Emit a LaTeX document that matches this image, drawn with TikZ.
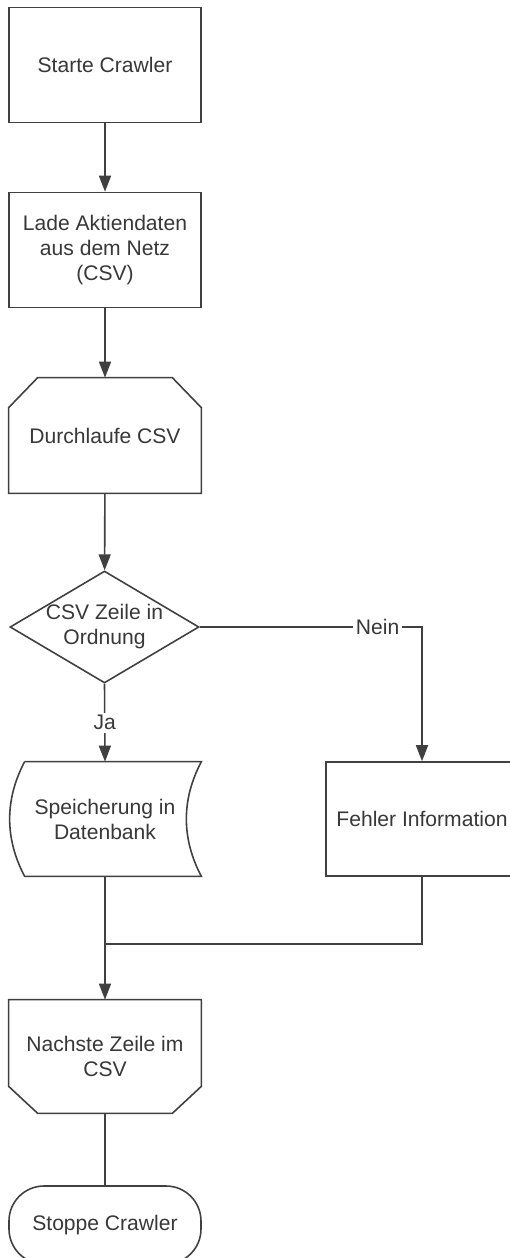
\documentclass[tikz,border=0pt]{standalone}
\usepackage{fontspec}
\setmainfont{Liberation Sans}
\usetikzlibrary{shapes.geometric,arrows.meta,positioning}

\definecolor{linegray}{HTML}{404040}
\definecolor{textgray}{HTML}{383838}

\tikzset{
  every node/.style={text=textgray, font=\fontsize{12}{14.2}\selectfont, align=center},
  stepbox/.style={minimum width=3.84cm, minimum height=2.3cm, inner sep=0pt},
  flow/.style={draw=linegray, line width=0.9pt},
  arr/.style={flow, -{Triangle[length=3.2mm, width=2.4mm]}},
  lbl/.style={fill=white, inner sep=1.5pt}
}

\begin{document}
\begin{tikzpicture}
\useasboundingbox[fill=white] (0,0) rectangle (10.18,-25.16);

\node[stepbox, draw=linegray, line width=0.9pt] (start) at (2.1,-1.3) {Starte Crawler};
\node[stepbox, draw=linegray, line width=0.9pt] (load) at (2.1,-5.0) {Lade Aktiendaten\\aus dem Netz\\(CSV)};
\node[stepbox] (loopa) at (2.1,-8.71) {Durchlaufe CSV};
\node[diamond, draw=linegray, line width=0.9pt, minimum width=3.78cm, minimum height=2.24cm, inner sep=0pt] (check) at (2.09,-12.54) {};
\node (checktxt) at (check.center) {CSV Zeile in\\Ordnung};
\node[stepbox, minimum height=2.28cm] (store) at (2.1,-16.38) {Speicherung in\\Datenbank};
\node[stepbox, minimum height=2.28cm, draw=linegray, line width=0.9pt] (error) at (8.44,-16.38) {Fehler Information};
\coordinate (merge) at (2.1,-18.88);
\node[stepbox, minimum height=2.26cm] (loopb) at (2.1,-21.13) {Nachste Zeile im\\CSV};
\node[stepbox, minimum height=1.56cm, draw=linegray, line width=0.9pt, rounded corners=0.7cm] (stop) at (2.1,-24.5) {\raisebox{0.08cm}{Stoppe Crawler}};

\draw[flow] ([xshift=0.58cm]loopa.north west) -- ([xshift=-0.58cm]loopa.north east)
  -- ([yshift=-0.6cm]loopa.north east) -- (loopa.south east) -- (loopa.south west)
  -- ([yshift=-0.6cm]loopa.north west) -- cycle;
\draw[flow] (loopb.north west) -- (loopb.north east) -- ([yshift=0.54cm]loopb.south east)
  -- ([xshift=-0.58cm]loopb.south east) -- ([xshift=0.58cm]loopb.south west)
  -- ([yshift=0.54cm]loopb.south west) -- cycle;
\draw[flow] ([xshift=0.32cm]store.north west) -- (store.north east)
  .. controls ([xshift=-0.4cm,yshift=-0.76cm]store.north east) and ([xshift=-0.4cm,yshift=0.76cm]store.south east) .. (store.south east)
  -- ([xshift=0.32cm]store.south west)
  .. controls ([xshift=-0.08cm,yshift=0.76cm]store.south west) and ([xshift=-0.08cm,yshift=-0.76cm]store.north west) .. ([xshift=0.32cm]store.north west);

\draw[arr] (start) -- (load);
\draw[arr] (load) -- (loopa);
\draw[arr] (loopa) -- (check);
\draw[arr] (check.south) -- node[lbl] (ja) {Ja} (store.north);
\draw[arr] (check.east) -| node[lbl, pos=0.4] (nein) {Nein} (error.north);
\draw[flow] (store.south) -- (merge);
\draw[flow] (error.south) |- (merge);
\draw[arr] (merge) -- (loopb.north);
\draw[flow] (loopb.south) -- (stop.north);
\end{tikzpicture}
\end{document}
